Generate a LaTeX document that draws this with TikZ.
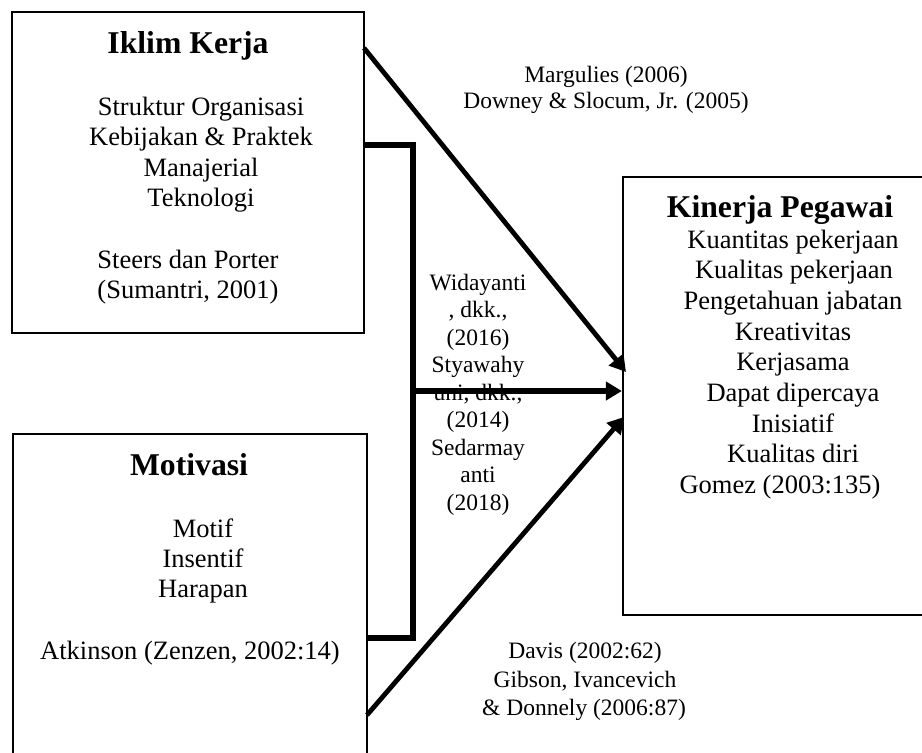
\documentclass[tikz,border=0pt]{standalone}
\usepackage{fontspec}
\setmainfont{Liberation Serif}
\usetikzlibrary{arrows.meta}
\begin{document}
\begin{tikzpicture}[x=1pt,y=-1pt,
  box/.style={draw=black, line width=2.2pt, rectangle, inner sep=0pt},
  txt/.style={font=\fontsize{26.5}{30.5}\selectfont, inner sep=0pt, anchor=base},
  ttl/.style={font=\fontsize{31.7}{36}\selectfont\bfseries, inner sep=0pt, anchor=base},
  sml/.style={font=\fontsize{23.5}{27.5}\selectfont, inner sep=0pt, anchor=base},
  thk/.style={line width=5.5pt, line join=miter},
  arr/.style={thk, -{Triangle[length=16pt,width=18pt]}}]
\clip (0,0) rectangle (922,753);
\fill[white] (0,0) rectangle (922,753);

% boxes
\node[box, minimum width=352.3pt, minimum height=321.3pt] (iklim) at (187.9,172.3) {};
\node[box, minimum width=354pt, minimum height=350pt] (motiv) at (190,609) {};
\node[box, minimum width=330pt, minimum height=438pt] (kin) at (788,396) {};

% Iklim Kerja text
\node[ttl] (t1) at (188,53) {Iklim Kerja};
\node[txt] (i1) at (201,115) {Struktur Organisasi};
\node[txt] (i2) at (201,145) {Kebijakan \& Praktek};
\node[txt] (i3) at (201,176) {Manajerial};
\node[txt] (i4) at (201,206) {Teknologi};
\node[txt] (i5) at (188,268) {Steers dan Porter};
\node[txt] (i6) at (188,298) {(Sumantri, 2001)};

% Motivasi text
\node[ttl] (t2) at (189,475) {Motivasi};
\node[txt] (mo1) at (203,537) {Motif};
\node[txt] (mo2) at (203,567) {Insentif};
\node[txt] (mo3) at (203,597) {Harapan};
\node[txt] (mo4) at (190,659) {Atkinson (Zenzen, 2002:14)};

% Kinerja Pegawai text
\node[ttl] (t3) at (780,217) {Kinerja Pegawai};
\node[txt] (k1) at (793,248) {Kuantitas pekerjaan};
\node[txt] (k2) at (794,278) {Kualitas pekerjaan};
\node[txt] (k3) at (793,309) {Pengetahuan jabatan};
\node[txt] (k4) at (793,340) {Kreativitas};
\node[txt] (k5) at (793,370) {Kerjasama};
\node[txt] (k6) at (793,401) {Dapat dipercaya};
\node[txt] (k7) at (793,432) {Inisiatif};
\node[txt] (k8) at (793,462) {Kualitas diri};
\node[txt] (k9) at (780,493) {Gomez (2003:135)};

% annotations
\node[sml] (a1) at (606,82) {Margulies (2006)};
\node[sml] (a2) at (606,108) {Downey \& Slocum, Jr. (2005)};
\node[sml] (b1) at (585,658) {Davis (2002:62)};
\node[sml] (b2) at (585,687) {Gibson, Ivancevich};
\node[sml] (b3) at (584,715) {\& Donnely (2006:87)};
\foreach \t [count=\i] in {Widayanti,{, dkk.,},(2016),Styawahy,{uni, dkk.,},(2014),Sedarmay,anti,(2018)}
  \node[sml] (m\i) at (478,{290+27.5*(\i-1)}) {\t};

% connectors
\coordinate (bt) at (413,145);
\coordinate (bb) at (413,638);
\coordinate (bm) at (413,391);
\coordinate (s1) at (364,48);
\coordinate (e1) at (626,372);
\coordinate (s2) at (367,715);
\coordinate (e2) at (624,417);
\draw[thk] (iklim.east |- bt) -- (bt) -- (bb) -- (motiv.east |- bb);
\draw[arr] (bm) -- (kin.west |- bm);
\draw[arr, line width=4.8pt] (s1) -- (e1);
\draw[arr, line width=4.8pt] (s2) -- (e2);
\end{tikzpicture}
\end{document}
